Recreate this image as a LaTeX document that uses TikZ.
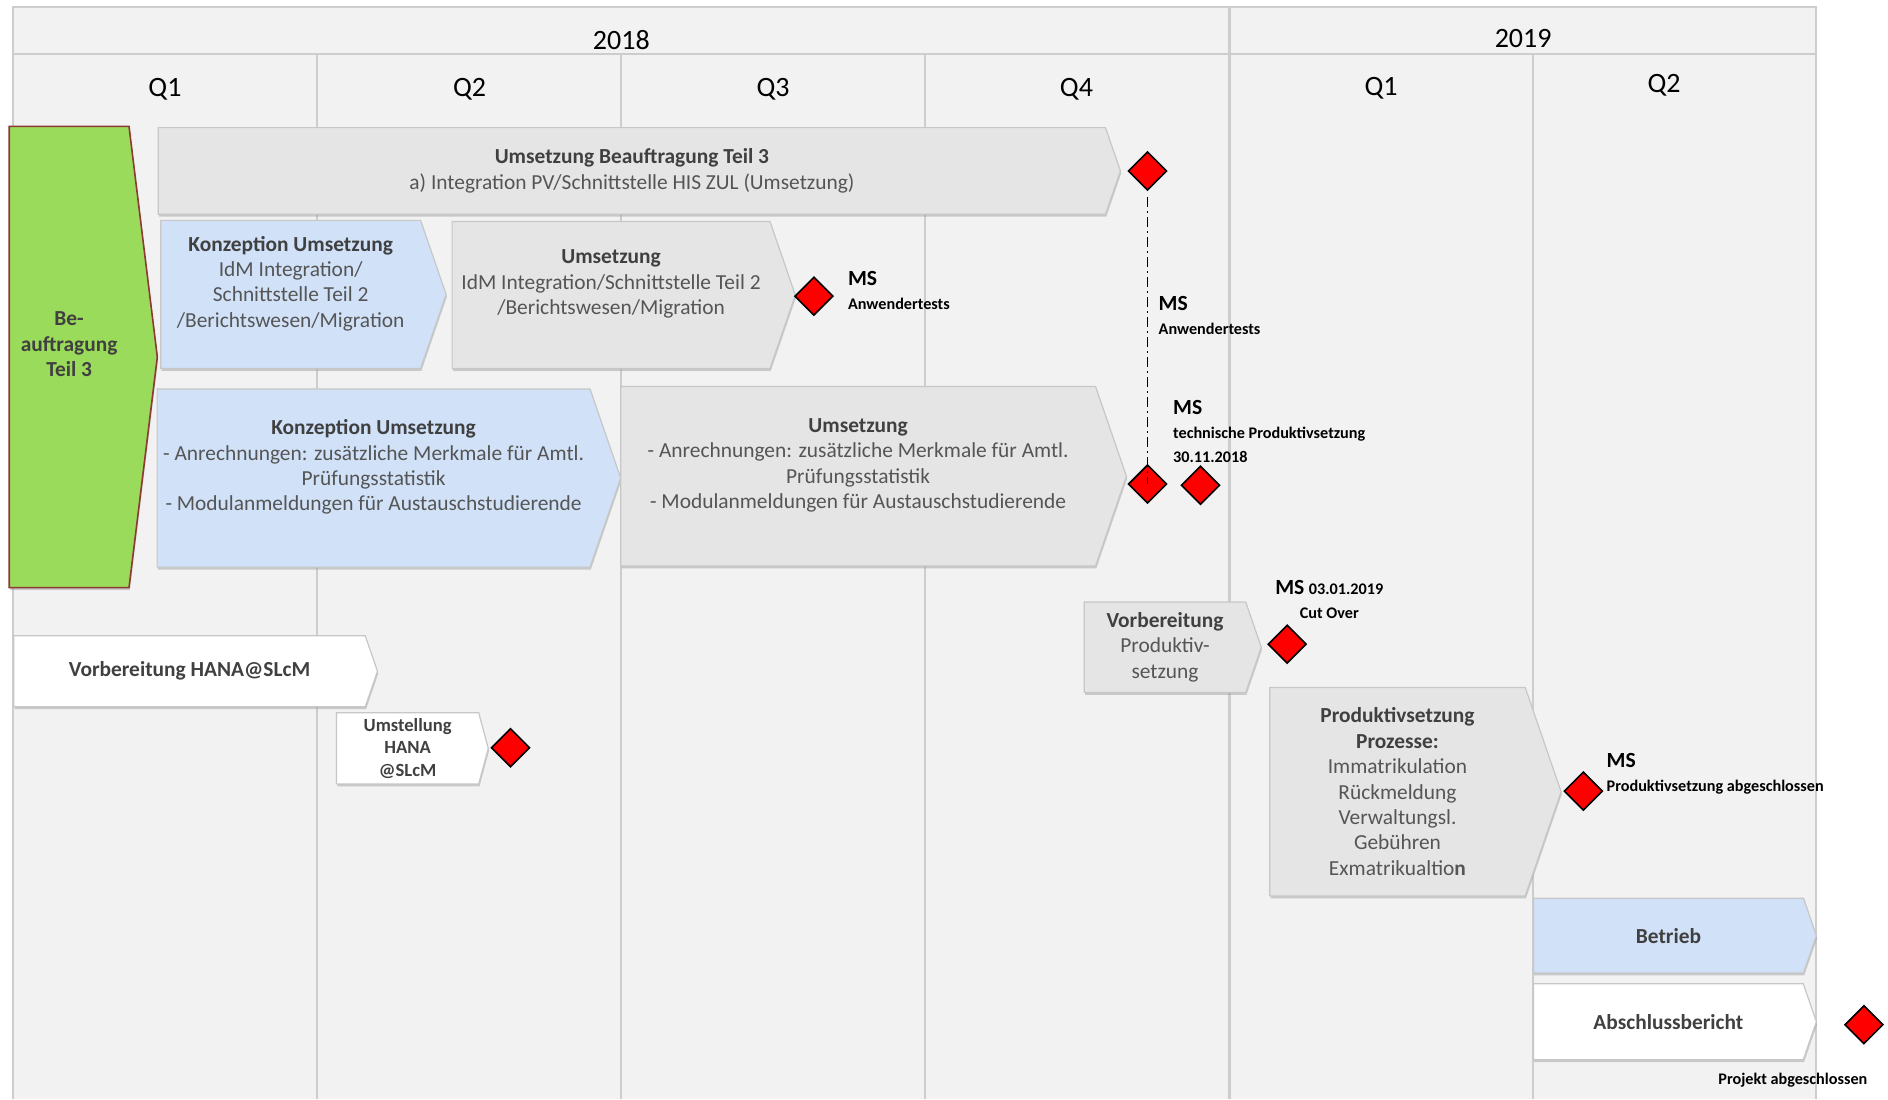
\documentclass[tikz,border=0pt]{standalone}
\usepackage{fontspec}
\setmainfont{Carlito}
\usetikzlibrary{shapes.symbols,shapes.geometric,shadows}

\definecolor{gridbg}{HTML}{F2F2F2}
\definecolor{gridline}{HTML}{CDCDCD}
\definecolor{boxgrey}{HTML}{E5E5E5}
\definecolor{boxblue}{HTML}{D0E1F8}
\definecolor{boxgreen}{HTML}{9BDB5B}
\definecolor{greenrim}{HTML}{8C3A32}
\definecolor{txtdark}{HTML}{404040}
\definecolor{txtbody}{HTML}{555555}

\newcommand\pxu{0.602pt}
\newcommand\phtitle[1]{{\bfseries\color{txtdark}#1}}
\newcommand\msbig{\fontsize{10.8}{12.5}\selectfont}
\newcommand\mssub{\fontsize{8.1}{9.8}\selectfont}

\begin{document}
\begin{tikzpicture}[x=\pxu, y=-\pxu,
    phase/.style={signal, signal to=east, signal from=nowhere,
      signal pointer angle=142, anchor=west, inner sep=2pt, align=center,
      draw=black!22, line width=0.6pt, text=txtbody,
      font=\fontsize{10.7}{12.7}\selectfont,
      drop shadow={shadow xshift=0.4pt, shadow yshift=-1.2pt, fill=black!40, opacity=0.45}},
    grey phase/.style={phase, fill=boxgrey},
    blue phase/.style={phase, fill=boxblue},
    white phase/.style={phase, fill=white},
    green phase/.style={phase, fill=boxgreen, draw=greenrim, line width=0.8pt},
    box size/.style 2 args={minimum width=#1*\pxu, minimum height=#2*\pxu},
    ms/.style={diamond, draw=black, fill=red, line width=0.8pt,
      minimum width=32*\pxu, minimum height=32*\pxu, inner sep=0pt},
    ms label/.style={align=left, anchor=west, inner sep=0pt, font=\bfseries},
    hdr/.style={font=\fontsize{14}{16}\selectfont, inner sep=0pt},
  ]
  \useasboundingbox (0,0) rectangle (1568,913);

  % raster
  \fill[gridbg] (11,6) rectangle (1508,913);
  \draw[gridline, line width=1pt] (11,913) -- (11,6) -- (1508,6) -- (1508,913);
  \draw[gridline, line width=1.2pt] (11,45) -- (1508,45);
  \foreach \x in {263,516,768,1273}
    \draw[gridline, line width=1pt] (\x,45) -- (\x,913);
  \draw[gridline, line width=1.2pt] (1021,6) -- (1021,913);

  \node[hdr] (y18) at (516,33) {2018};
  \node[hdr] (y19) at (1265,32) {2019};
  \node[hdr] (q1a) at (137,74) {Q1};
  \node[hdr] (q2a) at (390,74) {Q2};
  \node[hdr] (q3a) at (642,74) {Q3};
  \node[hdr] (q4a) at (894,74) {Q4};
  \node[hdr] (q1b) at (1147,73) {Q1};
  \node[hdr] (q2b) at (1382,71) {Q2};

  % phasen
  \node[green phase, box size={123}{383}, signal pointer angle=166] (beauf) at (7,296.5)
    {\phtitle{Be-}\\\phtitle{auftragung}\\\phtitle{Teil 3}\\~};
  \node[grey phase, box size={799}{72}] (ub3) at (131,142)
    {\phtitle{Umsetzung Beauftragung Teil 3}\\a) Integration PV/Schnittstelle HIS ZUL (Umsetzung)};
  \node[blue phase, box size={237}{123}] (konz1) at (133,244.5)
    {\phtitle{Konzeption Umsetzung}\\IdM Integration/\\Schnittstelle Teil 2\\/Berichtswesen/Migration\\~};
  \node[grey phase, box size={285}{122}] (ums1) at (375,245)
    {\phtitle{Umsetzung}\\IdM Integration/Schnittstelle Teil 2\\/Berichtswesen/Migration\\~};
  \node[blue phase, box size={385}{148}] (konz2) at (130,397)
    {\phtitle{Konzeption Umsetzung}\\- Anrechnungen: zusätzliche Merkmale für Amtl.\\Prüfungsstatistik\\- Modulanmeldungen für Austauschstudierende\\~};
  \node[grey phase, box size={420}{149}] (ums2) at (515,395.5)
    {\phtitle{Umsetzung}\\- Anrechnungen: zusätzliche Merkmale für Amtl.\\Prüfungsstatistik\\- Modulanmeldungen für Austauschstudierende\\~};
  \node[white phase, box size={302}{59}] (hana) at (11,557.5)
    {\phtitle{Vorbereitung HANA@SLcM}};
  \node[white phase, box size={126}{59}, signal pointer angle=150,
    font=\fontsize{9.3}{11.3}\selectfont] (umst) at (279,621.5)
    {\phtitle{Umstellung}\\\phtitle{HANA}\\\phtitle{@SLcM}};
  \node[grey phase, box size={147}{75}] (vorb) at (900,537.5)
    {\phtitle{Vorbereitung}\\Produktiv-\\setzung};
  \node[grey phase, box size={242}{173}] (prod) at (1054,657.5)
    {\phtitle{Produktivsetzung}\\\phtitle{Prozesse:}\\Immatrikulation\\Rückmeldung\\Verwaltungsl.\\Gebühren\\Exmatrikualtio\textbf{n}};
  \node[blue phase, box size={235}{62}] (betr) at (1273,777)
    {\phtitle{Betrieb}};
  \node[white phase, box size={235}{63}] (absch) at (1273,848.5)
    {\phtitle{Abschlussbericht}};

  % meilensteine
  \node[ms] (m1) at (953,142) {};
  \node[ms] (m2) at (676,246) {};
  \node[ms] (m3) at (953,402) {};
  \node[ms] (m4) at (997,403) {};
  \node[ms] (m5) at (424,621) {};
  \node[ms] (m6) at (1069,535) {};
  \node[ms] (m7) at (1315,657) {};
  \node[ms] (m8) at (1548,851) {};

  \draw[line width=0.8pt, dash pattern=on 5pt off 2pt on 1pt off 2pt]
    ([yshift=-3pt]m1.south) -- (m3.center);

  \node[ms label] (l2) at (704,241) {{\msbig MS}\\{\mssub Anwendertests}};
  \node[ms label] (l1) at (962,262) {{\msbig MS}\\{\mssub Anwendertests}};
  \node[ms label] (l3) at (974,358)
    {{\msbig MS}\\{\mssub technische Produktivsetzung}\\{\mssub 30.11.2018}};
  \node[ms label, align=center, anchor=center] (l6) at (1104,498)
    {{\msbig MS} {\mssub 03.01.2019}\\{\mssub Cut Over}};
  \node[ms label] (l7) at (1334,643) {{\msbig MS}\\{\mssub Produktivsetzung abgeschlossen}};
  \node[ms label, anchor=center] (l8) at (1489,897) {\mssub Projekt abgeschlossen};
\end{tikzpicture}
\end{document}
